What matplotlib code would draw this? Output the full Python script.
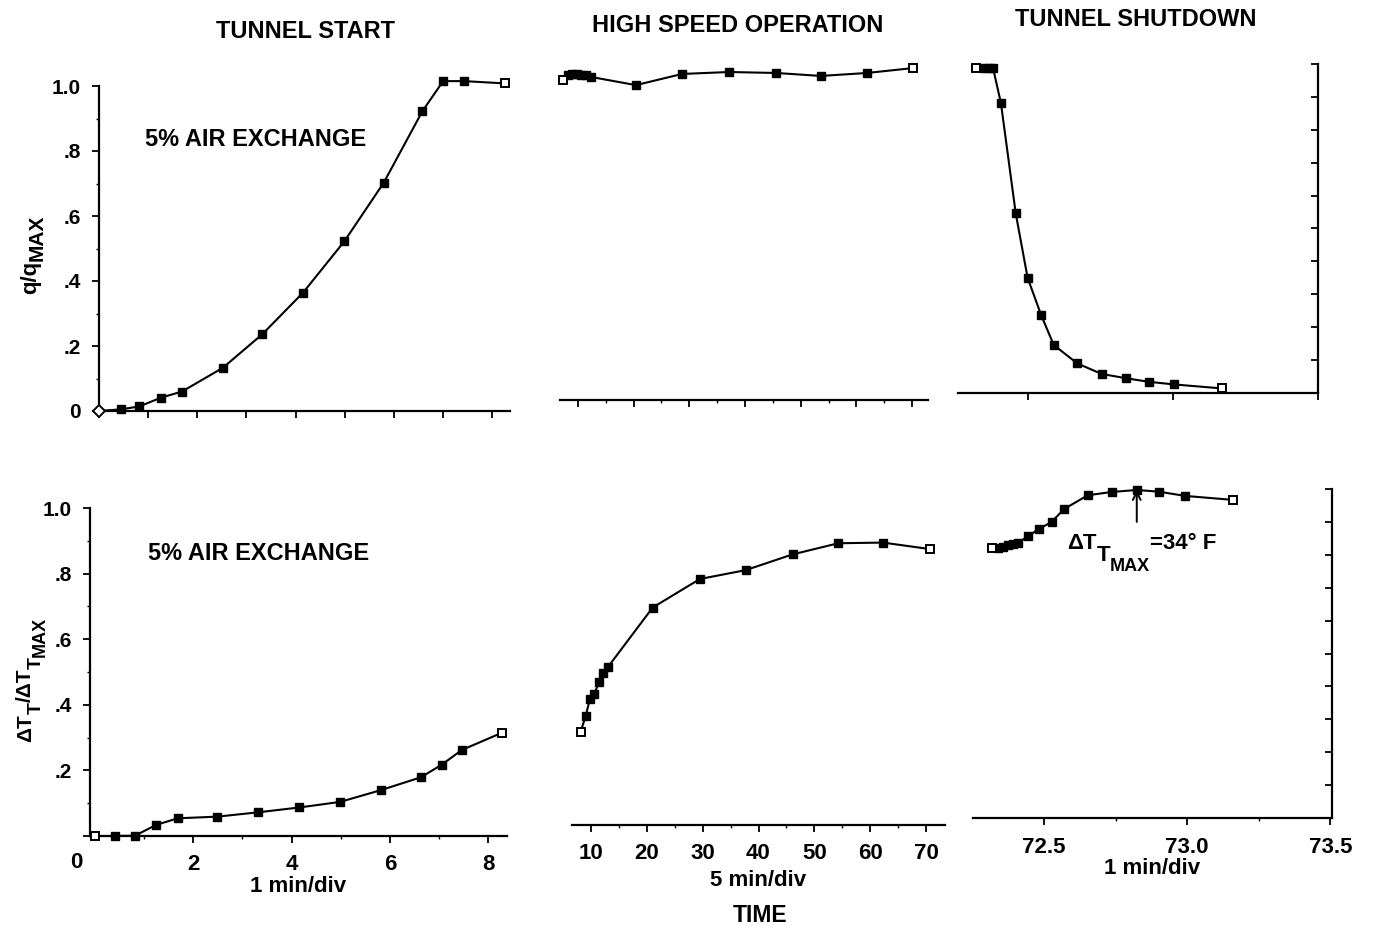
import matplotlib
matplotlib.use("Agg")
import matplotlib.pyplot as plt
from matplotlib.ticker import MultipleLocator, FixedLocator, FixedFormatter

plt.rcParams['font.family'] = ['Liberation Sans', 'DejaVu Sans']
plt.rcParams['font.weight'] = 'bold'

# ---------------- data ----------------
# Top row: q/qMAX
start_q_t = [0, 0.44, 0.82, 1.26, 1.69, 2.52, 3.32, 4.15, 4.99, 5.79, 6.58, 7.0, 7.43, 8.25]
start_q = [0, 0.005, 0.014, 0.041, 0.060, 0.133, 0.236, 0.364, 0.522, 0.702, 0.923, 1.015, 1.015, 1.008]

high_q_t = [7.3, 8.2, 9.0, 9.8, 10.6, 11.5, 12.3, 20.4, 28.7, 37.1, 45.6, 53.6, 61.9, 70.2]
high_q = [0.976, 0.99, 0.993, 0.993, 0.99, 0.99, 0.985, 0.96, 0.994, 1.0, 0.997, 0.988, 0.997, 1.012]

shut_q_t = [72.32, 72.35, 72.365, 72.38, 72.407, 72.458, 72.499, 72.546, 72.589, 72.67,
            72.754, 72.837, 72.917, 73.004, 73.168]
shut_q = [0.987, 0.987, 0.987, 0.987, 0.881, 0.546, 0.35, 0.236, 0.146, 0.09,
          0.058, 0.045, 0.034, 0.026, 0.014]

# Bottom row: dT_T / dT_TMAX
start_T_t = [0, 0.41, 0.82, 1.25, 1.69, 2.49, 3.31, 4.16, 4.99, 5.82, 6.63, 7.05, 7.46, 8.28]
start_T = [0, 0, 0.001, 0.034, 0.054, 0.059, 0.072, 0.087, 0.104, 0.14, 0.179, 0.217, 0.262, 0.315]

high_T_t = [8.15, 9.05, 9.8, 10.6, 11.4, 12.2, 13.1, 21.05, 29.5, 37.7, 46.1, 54.3, 62.3, 70.8]
high_T = [0.284, 0.333, 0.383, 0.399, 0.435, 0.464, 0.483, 0.663, 0.75, 0.777, 0.825, 0.859, 0.861, 0.841]

shut_T_t = [72.317, 72.34, 72.357, 72.375, 72.392, 72.408, 72.445, 72.483, 72.527, 72.57,
            72.653, 72.737, 72.824, 72.9, 72.993, 73.159]
shut_T = [0.82, 0.822, 0.825, 0.83, 0.833, 0.835, 0.857, 0.879, 0.9, 0.939,
          0.981, 0.991, 0.997, 0.992, 0.979, 0.967]

peak_time = 72.824
peak_value = 0.997

y_ticks = [0, 0.2, 0.4, 0.6, 0.8, 1.0]
y_tick_labels_top = ["0", ".2", ".4", ".6", ".8", "1.0"]
y_tick_labels_bot = ["", ".2", ".4", ".6", ".8", "1.0"]
start_xticks = [2, 4, 6, 8]
high_xticks = [10, 20, 30, 40, 50, 60, 70]
shut_xticks = [72.5, 73.0, 73.5]
shut_xtick_labels = ["72.5", "73.0", "73.5"]

titles = ["TUNNEL START", "HIGH SPEED OPERATION", "TUNNEL SHUTDOWN"]

# ---------------- figure ----------------
W, H = 1378, 933
fig = plt.figure(figsize=(W / 100, H / 100), dpi=100)
FS = 15
XFS = 16
LW = 1.5
SPW = 1.6


def add_ax(x0, y0, x1, y1):
    return fig.add_axes([x0 / W, 1 - y1 / H, (x1 - x0) / W, (y1 - y0) / H])


def style(ax, left=False, right=False):
    ax.spines['top'].set_visible(False)
    ax.spines['left'].set_visible(left)
    ax.spines['right'].set_visible(right)
    for s in ax.spines.values():
        s.set_linewidth(SPW)
    ax.patch.set_alpha(0)
    ax.set_ylim(0, 1.0)


def draw(ax, t, v, first_marker='s'):
    ax.plot(t, v, color='black', lw=LW, clip_on=False, zorder=3)
    ax.plot(t[1:-1], v[1:-1], ls='none', marker='s', ms=6, mfc='black', mec='black',
            clip_on=False, zorder=4)
    ax.plot([t[0]], [v[0]], ls='none', marker=first_marker, ms=6, mfc='white', mec='black',
            mew=1.4, clip_on=False, zorder=4)
    ax.plot([t[-1]], [v[-1]], ls='none', marker='s', ms=6, mfc='white', mec='black',
            mew=1.4, clip_on=False, zorder=4)


def left_y(ax, labels):
    ax.yaxis.set_major_locator(FixedLocator(y_ticks))
    ax.yaxis.set_major_formatter(FixedFormatter(labels))
    ax.yaxis.set_minor_locator(MultipleLocator(0.1))
    ax.tick_params(axis='y', which='major', direction='out', length=5, width=1.3,
                   labelsize=FS, pad=8)
    ax.tick_params(axis='y', which='minor', direction='out', length=2.5, width=1.0)


def right_y(ax):
    ax.yaxis.tick_right()
    ax.yaxis.set_major_locator(MultipleLocator(0.1))
    ax.yaxis.set_minor_locator(FixedLocator([]))
    ax.tick_params(axis='y', which='major', direction='in', length=5, width=1.3,
                   labelright=False, labelleft=False, left=False, right=True)


# ---- Top left: tunnel start, q
ax1 = add_ax(99, 86, 510, 411)
style(ax1, left=True)
ax1.set_xlim(0, 8.36)
draw(ax1, start_q_t, start_q, first_marker='D')
left_y(ax1, y_tick_labels_top)
ax1.xaxis.set_major_locator(MultipleLocator(1))
ax1.tick_params(axis='x', which='major', direction='out', length=5, width=1.3, labelbottom=False)

# ---- Top middle: high speed, q
ax2 = add_ax(560, 72, 928, 400)
style(ax2)
ax2.set_xlim(6.77, 72.87)
draw(ax2, high_q_t, high_q)
ax2.set_yticks([])
ax2.xaxis.set_major_locator(FixedLocator(high_xticks))
ax2.xaxis.set_minor_locator(MultipleLocator(5))
ax2.tick_params(axis='x', which='major', direction='out', length=5, width=1.3, labelbottom=False)
ax2.tick_params(axis='x', which='minor', direction='out', length=2.5, width=1.0)

# ---- Top right: shutdown, q
ax3 = add_ax(958, 64, 1318, 393)
style(ax3, right=True)
ax3.set_xlim(72.259, 73.5)
draw(ax3, shut_q_t, shut_q)
right_y(ax3)
ax3.xaxis.set_major_locator(FixedLocator(shut_xticks))
ax3.tick_params(axis='x', which='major', direction='out', length=5, width=1.3, labelbottom=False)

# ---- Bottom left: tunnel start, T
ax4 = add_ax(90, 508, 507, 836)
style(ax4, left=True)
ax4.set_xlim(-0.096, 8.38)
draw(ax4, start_T_t, start_T)
left_y(ax4, y_tick_labels_bot)
ax4.xaxis.set_major_locator(FixedLocator(start_xticks))
ax4.xaxis.set_minor_locator(FixedLocator([1, 3, 5, 7]))
ax4.tick_params(axis='x', which='major', direction='out', length=5, width=1.3,
                labelsize=XFS, pad=8)
ax4.tick_params(axis='x', which='minor', direction='out', length=2.5, width=1.0)
ax4.set_xlabel("1 min/div", fontsize=16, fontweight='bold', labelpad=1)

# ---- Bottom middle: high speed, T
ax5 = add_ax(572, 497, 945, 825)
style(ax5)
ax5.set_xlim(6.6, 73.4)
draw(ax5, high_T_t, high_T)
ax5.set_yticks([])
ax5.xaxis.set_major_locator(FixedLocator(high_xticks))
ax5.xaxis.set_minor_locator(MultipleLocator(5))
ax5.tick_params(axis='x', which='major', direction='out', length=5, width=1.3,
                labelsize=XFS, pad=8)
ax5.tick_params(axis='x', which='minor', direction='out', length=2.5, width=1.0)
ax5.set_xlabel("5 min/div", fontsize=16, fontweight='bold', labelpad=4)

# ---- Bottom right: shutdown, T
ax6 = add_ax(973, 489, 1332, 818)
style(ax6, right=True)
ax6.set_xlim(72.252, 73.506)
draw(ax6, shut_T_t, shut_T)
right_y(ax6)
ax6.xaxis.set_major_locator(FixedLocator(shut_xticks))
ax6.xaxis.set_major_formatter(FixedFormatter(shut_xtick_labels))
ax6.xaxis.set_minor_locator(FixedLocator([72.25, 72.75, 73.25]))
ax6.tick_params(axis='x', which='major', direction='out', length=5, width=1.3,
                labelsize=XFS, pad=9)
ax6.tick_params(axis='x', which='minor', direction='out', length=2.5, width=1.0)
ax6.set_xlabel("1 min/div", fontsize=16, fontweight='bold', labelpad=0)

ax6.annotate("", xy=(peak_time, peak_value), xytext=(peak_time, 0.90),
             arrowprops=dict(arrowstyle='->', color='black', lw=1.4, mutation_scale=14,
                             shrinkA=0, shrinkB=0))

# ---------------- figure texts ----------------
def ftext(x, y, s, **kw):
    fig.text(x / W, 1 - y / H, s, fontsize=kw.pop('fontsize', FS), fontweight='bold',
             ha=kw.pop('ha', 'center'), va=kw.pop('va', 'center'), **kw)

ftext(306, 32, titles[0], fontsize=17)
ftext(738, 25, titles[1], fontsize=17)
ftext(1136, 20, titles[2], fontsize=17)
ftext(145, 140, "5% AIR EXCHANGE", ha='left', fontsize=17)
ftext(148, 553, "5% AIR EXCHANGE", ha='left', fontsize=17)
ftext(76, 862, "0", fontsize=XFS)
ftext(760, 915, "TIME", fontsize=16.5)

renderer = fig.canvas.get_renderer()


def pieces(x0, y0, parts, rotated=False):
    """Lay out text pieces one after another; parts = (text, size, shift_px)."""
    pos = x0 if not rotated else y0
    for s, size, shift in parts:
        if rotated:
            t = fig.text((x0 + shift) / W, 1 - pos / H, s, fontsize=size, fontweight='bold',
                         rotation=90, rotation_mode='anchor', ha='left', va='baseline')
            bb = t.get_window_extent(renderer)
            pos -= bb.height
        else:
            t = fig.text(pos / W, 1 - (y0 + shift) / H, s, fontsize=size, fontweight='bold',
                         ha='left', va='baseline')
            bb = t.get_window_extent(renderer)
            pos += bb.width


# y labels (rotated, baseline x given, start y at bottom)
pieces(36, 294, [("q/q", 16, 0), ("MAX", 15, 7)], rotated=True)
pieces(31, 742, [("ΔT", 15, 0), ("T", 14, 10), ("/ΔT", 15, 0), ("T", 14, 10),
                 ("MAX", 13, 14)], rotated=True)

# annotation in shutdown panel
pieces(1067, 549, [("ΔT", 16, 0), ("T", 16, 12), ("MAX", 13, 22), ("=34° F", 16, 0)])

fig.savefig("out.png", dpi=100)
